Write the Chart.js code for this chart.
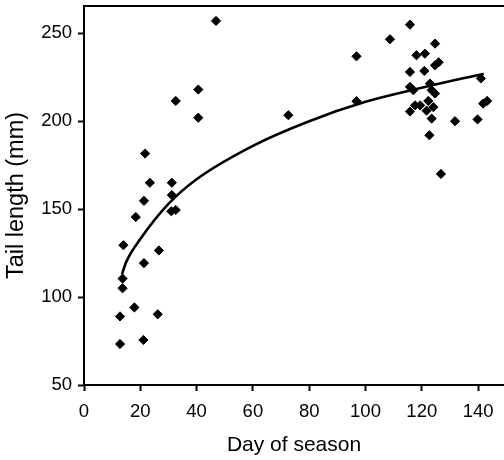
<!DOCTYPE html>
<html>
<head>
<meta charset="utf-8">
<script src="https://cdn.jsdelivr.net/npm/chart.js@4/dist/chart.umd.min.js"></script>
<style>
  html, body { margin: 0; padding: 0; background: #fff; }
  #wrap { width: 504px; height: 460px; }
</style>
</head>
<body>
<div id="wrap"><canvas id="c" width="504" height="460"></canvas></div>
<script>
// Observed points: day of season
const dayValues = [
  12.8, 12.8, 13.7, 13.7, 14, 17.9, 18.4, 21.1, 21.3, 21.3, 21.7, 23.4, 26.2, 26.6,
  31, 31.2, 31.2, 32.6, 32.6, 40.6, 40.6, 46.9,
  72.6, 96.8, 96.8, 108.7, 115.8,
  115.8, 118.1, 121.1, 124.7, 124.7, 126, 120.9, 115.8, 117, 122.9, 123.5, 124.7,
  117.6, 115.8, 119.4, 122.3, 121.7, 124.1, 123.5, 122.7, 126.8,
  131.8, 139.8, 141.8, 143.2, 141
];
// Observed points: tail length (mm)
const tailValues = [
  73.3, 89, 105, 110.5, 129.5, 94.1, 145.5, 75.6, 119.3, 154.7, 181.6, 165, 90.2, 126.5,
  148.8, 165, 158, 149.5, 211.5, 218, 202, 257,
  203.4, 236.9, 211.4, 246.6, 254.9,
  228, 237.5, 238.4, 244.1, 231.8, 233.5, 228.6, 219.5, 217.6, 221.4, 217.6, 215.7,
  209, 205.5, 209, 211.5, 206, 208, 201.5, 192, 170,
  200, 201, 210, 211.5, 224.3
];
// Fitted trend line
const curveDays = [13.5, 15, 20, 30, 40, 60, 80, 100, 120, 142];
const curveTail = [113, 120, 133, 153, 167, 186, 200, 211, 219, 227];

const xTicks = [0, 20, 40, 60, 80, 100, 120, 140];
const yTicks = [50, 100, 150, 200, 250];

const scatterData = dayValues.map((d, i) => ({ x: d, y: tailValues[i] }));
const curveData = curveDays.map((d, i) => ({ x: d, y: curveTail[i] }));

// Let the plot run to the right edge of the canvas (the reference is cropped there)
const stretchRight = {
  id: 'stretchRight',
  afterLayout(chart) {
    const area = chart.chartArea;
    area.right = chart.width;
    area.width = area.right - area.left;
    const xs = chart.scales.x;
    xs.right = chart.width;
    xs.width = xs.right - xs.left;
    xs.configure();
  }
};

const topBorder = {
  id: 'topBorder',
  afterDraw(chart) {
    const { ctx, chartArea } = chart;
    ctx.save();
    ctx.strokeStyle = '#000';
    ctx.lineWidth = 2;
    ctx.beginPath();
    ctx.moveTo(chartArea.left - 1, chartArea.top);
    ctx.lineTo(chart.width, chartArea.top);
    ctx.stroke();
    ctx.restore();
  }
};

const fontFam = '"Liberation Sans", Arial, Helvetica, sans-serif';

new Chart(document.getElementById('c'), {
  type: 'scatter',
  data: {
    datasets: [
      {
        label: 'Observed',
        data: scatterData,
        pointStyle: 'rectRot',
        pointRadius: 4.6,
        pointBorderWidth: 1,
        backgroundColor: '#000',
        borderColor: '#000'
      },
      {
        label: 'Fit',
        type: 'line',
        data: curveData,
        showLine: true,
        pointRadius: 0,
        borderColor: '#000',
        borderWidth: 2.6,
        cubicInterpolationMode: 'monotone',
        fill: false
      }
    ]
  },
  plugins: [stretchRight, topBorder],
  options: {
    responsive: false,
    animation: false,
    devicePixelRatio: 1,
    layout: { padding: { left: 0, right: 0, top: 6, bottom: 0 } },
    plugins: {
      legend: { display: false },
      tooltip: { enabled: false },
      title: { display: false }
    },
    scales: {
      x: {
        type: 'linear',
        min: 0,
        max: 149.2,
        afterBuildTicks: (s) => { s.ticks = xTicks.map(v => ({ value: v })); },
        afterFit: (s) => { s.height = 75; s.paddingLeft = 0; s.paddingRight = 0; },
        grid: { drawOnChartArea: false, drawTicks: true, tickLength: 6, tickWidth: 2, tickColor: '#000' },
        border: { display: true, color: '#000', width: 2 },
        ticks: { color: '#000', padding: 10, font: { family: fontFam, size: 18.5 }, maxRotation: 0 },
        title: { display: true, text: 'Day of season', color: '#000', font: { family: fontFam, size: 21 }, padding: { top: 0, bottom: 2 } }
      },
      y: {
        type: 'linear',
        min: 50,
        max: 265.5,
        afterBuildTicks: (s) => { s.ticks = yTicks.map(v => ({ value: v })); },
        afterFit: (s) => { s.width = 84; s.paddingTop = 0; s.paddingBottom = 0; },
        grid: { drawOnChartArea: false, drawTicks: true, tickLength: 6, tickWidth: 2, tickColor: '#000' },
        border: { display: true, color: '#000', width: 2 },
        ticks: { color: '#000', padding: 6, font: { family: fontFam, size: 18.5 } },
        title: { display: true, text: 'Tail length (mm)', color: '#000', font: { family: fontFam, size: 23.5 }, padding: { top: 2, bottom: 0 } }
      }
    }
  }
});
</script>
</body>
</html>
